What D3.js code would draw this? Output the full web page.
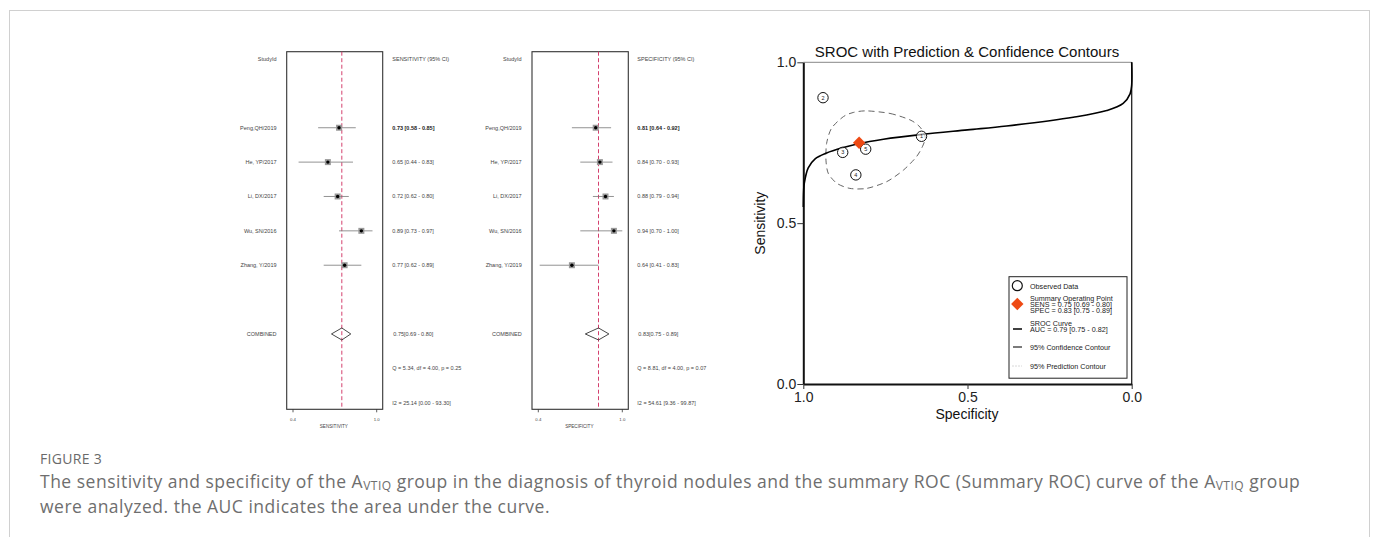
<!DOCTYPE html>
<html><head><meta charset="utf-8">
<script src="https://cdn.jsdelivr.net/npm/d3@7"></script>
<style>
html,body{margin:0;padding:0;background:#fff;}
svg{display:block;}
</style></head>
<body>
<script>
// ---------- DATA ----------
const studies = ["Peng,QH/2019", "He,  YP/2017", "Li,  DX/2017", "Wu,  SN/2016", "Zhang,  Y/2019"];
const sens = [0.73, 0.65, 0.72, 0.89, 0.77];
const sensLo = [0.58, 0.44, 0.62, 0.73, 0.62];
const sensHi = [0.85, 0.83, 0.80, 0.97, 0.89];
const sensComb = [0.75, 0.69, 0.80];
const spec = [0.81, 0.84, 0.88, 0.94, 0.64];
const specLo = [0.64, 0.70, 0.79, 0.70, 0.41];
const specHi = [0.92, 0.93, 0.94, 1.00, 0.83];
const specComb = [0.83, 0.75, 0.89];
const sensHet = ["Q = 5.34, df = 4.00, p = 0.25", "I2 = 25.14 [0.00 - 93.30]"];
const specHet = ["Q = 8.81, df = 4.00, p = 0.07", "I2 = 54.61 [9.36 - 99.87]"];
const forestTicks = [0.4, 1.0];
const studyPointLabels = ["5", "4", "3", "2", "1"];
// SROC curve: [specificity, sensitivity]
const srocCurve = [[1.0,0.55],[0.999,0.60],[0.997,0.624],[0.985,0.672],[0.964,0.700],[0.929,0.718],[0.878,0.735],[0.833,0.747],[0.756,0.761],[0.638,0.776],[0.50,0.790],[0.381,0.802],[0.178,0.829],[0.076,0.850],[0.026,0.872],[0.005,0.902],[0.0,0.93],[0.0,1.0]];
// 95% confidence contour: [specificity, sensitivity]
const confContour = [[0.807,0.849],[0.736,0.841],[0.675,0.821],[0.645,0.799],[0.629,0.769],[0.635,0.743],[0.655,0.707],[0.695,0.665],[0.746,0.629],[0.807,0.608],[0.858,0.608],[0.898,0.624],[0.924,0.655],[0.931,0.696],[0.929,0.748],[0.914,0.795],[0.878,0.831],[0.848,0.844]];
const summaryPoint = [0.83, 0.75];
const srocTicks = [0, 0.5, 1.0];
const legendItems = [["Observed Data"], ["Summary Operating Point","SENS = 0.75 [0.69 - 0.80]","SPEC = 0.83 [0.75 - 0.89]"], ["SROC Curve","AUC = 0.79 [0.75 - 0.82]"], ["95% Confidence Contour"], ["95% Prediction Contour"]];

// ---------- SVG ----------
const W = 1376, H = 537;
const svg = d3.select("body").append("svg").attr("width", W).attr("height", H);
svg.append("rect").attr("x",9.5).attr("y",10.5).attr("width",1360).attr("height",620)
  .attr("fill","none").attr("stroke","#d0d0d0").attr("stroke-width",1);

const FF = "Liberation Sans, Arial, sans-serif";

function forest(cfg) {
  const g = svg.append("g");
  const x = d3.scaleLinear().domain([0.4, 1.0]).range([cfg.x0, cfg.x1]);
  const row = d3.scaleLinear().domain([0, 10]).range([59, 402.7]);
  const bx0 = cfg.x0 - 6.3, bx1 = cfg.x1 + 6, by0 = 51.7, by1 = 409.3;
  const txt = (xx, yy, s, anchor, opts={}) => g.append("text").attr("x",xx).attr("y",yy)
     .attr("dy","0.35em").attr("text-anchor",anchor||"start").attr("font-family",FF)
     .attr("font-size",opts.size||5.5).attr("fill",opts.fill||"#444")
     .attr("font-weight",opts.bold?"bold":"normal").text(s);
  // box
  g.append("rect").attr("x",bx0).attr("y",by0).attr("width",bx1-bx0).attr("height",by1-by0)
    .attr("fill","none").attr("stroke","#333").attr("stroke-width",1.1);
  // header
  txt(cfg.labelX, row(0), "StudyId", "end");
  txt(cfg.valX, row(0), cfg.header, "start");
  // dashed line
  g.append("line").attr("x1",x(cfg.comb[0])).attr("x2",x(cfg.comb[0])).attr("y1",by0).attr("y2",by1)
    .attr("stroke","#d4406e").attr("stroke-width",1).attr("stroke-dasharray","4,2.5");
  // studies
  studies.forEach((s, i) => {
    const yy = row(i + 2);
    g.append("line").attr("x1",x(cfg.lo[i])).attr("x2",x(cfg.hi[i])).attr("y1",yy).attr("y2",yy)
      .attr("stroke","#777").attr("stroke-width",0.8);
    g.append("rect").attr("x",x(cfg.est[i])-3).attr("y",yy-3).attr("width",6).attr("height",6)
      .attr("fill","#999");
    g.append("circle").attr("cx",x(cfg.est[i])).attr("cy",yy).attr("r",1.7).attr("fill","#000");
    txt(cfg.labelX, yy, s, "end");
    txt(cfg.valX, yy, `${cfg.est[i].toFixed(2)} [${cfg.lo[i].toFixed(2)} - ${cfg.hi[i].toFixed(2)}]`, "start", {bold: i===0, fill: i===0?"#222":"#444"});
  });
  // combined
  const yc = row(8);
  const c = cfg.comb;
  g.append("path").attr("d", `M${x(c[1])-2},${yc} L${x(c[0])},${yc-6} L${x(c[2])+2},${yc} L${x(c[0])},${yc+6} Z`)
    .attr("fill","none").attr("stroke","#333").attr("stroke-width",0.9);
  txt(cfg.labelX, yc, "COMBINED", "end");
  txt(cfg.valX + 1, yc, `${c[0].toFixed(2)}[${c[1].toFixed(2)} - ${c[2].toFixed(2)}]`, "start");
  txt(cfg.valX, row(9), cfg.het[0], "start");
  txt(cfg.valX, row(10), cfg.het[1], "start");
  // ticks
  forestTicks.forEach(t => {
    g.append("line").attr("x1",x(t)).attr("x2",x(t)).attr("y1",by1).attr("y2",by1+3).attr("stroke","#333").attr("stroke-width",0.8);
    txt(x(t), 419.5, t.toFixed(1), "middle", {size:4.3});
  });
  txt((cfg.x0+cfg.x1)/2 - 1, 426, cfg.axisTitle, "middle", {size:4.6});
}

forest({x0:293, x1:376.7, labelX:276.5, valX:392.3, header:"SENSITIVITY (95% CI)", est:sens, lo:sensLo, hi:sensHi, comb:sensComb, het:sensHet, axisTitle:"SENSITIVITY"});
forest({x0:538.3, x1:622.3, labelX:521.7, valX:637.3, header:"SPECIFICITY (95% CI)", est:spec, lo:specLo, hi:specHi, comb:specComb, het:specHet, axisTitle:"SPECIFICITY"});

// ---------- SROC ----------
const sx = d3.scaleLinear().domain([1, 0]).range([803.3, 1131.7]);
const sy = d3.scaleLinear().domain([0, 1]).range([384, 62.3]);
const sg = svg.append("g");

// frame top/right
sg.append("line").attr("x1",sx(1)).attr("x2",sx(0)).attr("y1",sy(1)).attr("y2",sy(1)).attr("stroke","#888").attr("stroke-width",1);
sg.append("line").attr("x1",sx(0)).attr("x2",sx(0)).attr("y1",sy(1)).attr("y2",sy(0)).attr("stroke","#222").attr("stroke-width",1.3);

// axes
const yAxis = sg.append("g").attr("transform",`translate(${sx(1)},0)`)
  .call(d3.axisLeft(sy).tickValues(srocTicks).tickFormat(d3.format(".1f")).tickSize(6).tickSizeOuter(0));
const xAxis = sg.append("g").attr("transform",`translate(0,${sy(0)})`)
  .call(d3.axisBottom(sx).tickValues(srocTicks).tickFormat(d3.format(".1f")).tickSize(5).tickSizeOuter(0));
[yAxis, xAxis].forEach(a => {
  a.select(".domain").attr("stroke","#111").attr("stroke-width",2);
  a.selectAll(".tick line").attr("stroke","#333").attr("stroke-width",1);
  a.selectAll(".tick text").attr("font-family",FF).attr("font-size",14).attr("fill","#222");
});
yAxis.selectAll(".tick text").attr("x",-7);
xAxis.selectAll(".tick text").attr("y",8);

sg.append("text").attr("x",967).attr("y",57).attr("text-anchor","middle").attr("font-family",FF)
  .attr("font-size",15).attr("fill","#111").text("SROC with Prediction & Confidence Contours");
sg.append("text").attr("transform",`translate(765,${(sy(0)+sy(1))/2}) rotate(-90)`).attr("text-anchor","middle")
  .attr("font-family",FF).attr("font-size",14).attr("fill","#111").text("Sensitivity");
sg.append("text").attr("x",967).attr("y",419).attr("text-anchor","middle")
  .attr("font-family",FF).attr("font-size",14).attr("fill","#111").text("Specificity");

// confidence contour
sg.append("path").datum(confContour)
  .attr("d", d3.line().x(d=>sx(d[0])).y(d=>sy(d[1])).curve(d3.curveCardinalClosed.tension(0.2)))
  .attr("fill","none").attr("stroke","#666").attr("stroke-width",1).attr("stroke-dasharray","6,4");

// SROC curve
sg.append("path").datum(srocCurve)
  .attr("d", d3.line().x(d=>sx(d[0])).y(d=>sy(d[1])).curve(d3.curveCatmullRom.alpha(0.5)))
  .attr("fill","none").attr("stroke","#000").attr("stroke-width",1.6);

// study points
sens.forEach((s, i) => {
  const cx = sx(spec[i]), cy = sy(s);
  sg.append("circle").attr("cx",cx).attr("cy",cy).attr("r",5.2).attr("fill","#fff").attr("fill-opacity",0.6)
    .attr("stroke","#111").attr("stroke-width",1);
  sg.append("text").attr("x",cx).attr("y",cy).attr("dy","0.35em").attr("text-anchor","middle")
    .attr("font-family",FF).attr("font-size",5.5).attr("fill","#222").text(studyPointLabels[i]);
});

// summary diamond
const dsz = 6.2;
sg.append("path").attr("d", d3.symbol().type(d3.symbolSquare).size(dsz*dsz*2)())
  .attr("transform",`translate(${sx(summaryPoint[0])},${sy(summaryPoint[1])}) rotate(45)`)
  .attr("fill","#ee4a14");

// legend
const lg = sg.append("g");
lg.append("rect").attr("x",1009).attr("y",276.7).attr("width",118).attr("height",101.5)
  .attr("fill","#fff").attr("stroke","#222").attr("stroke-width",1);
const lx = 1030, fs = 7.2;
const ltext = (yy, s) => lg.append("text").attr("x",lx).attr("y",yy).attr("dy","0.35em")
  .attr("font-family",FF).attr("font-size",fs).attr("fill","#222").text(s);
// observed
lg.append("circle").attr("cx",1017.3).attr("cy",285.7).attr("r",5).attr("fill","none").attr("stroke","#111").attr("stroke-width",1.2);
ltext(286, legendItems[0][0]);
// summary
lg.append("path").attr("d", d3.symbol().type(d3.symbolSquare).size(dsz*dsz*2)())
  .attr("transform","translate(1017.3,304) rotate(45)").attr("fill","#ee4a14");
legendItems[1].forEach((s,k) => ltext(298 + k*6.4, s));
// sroc
lg.append("line").attr("x1",1013).attr("x2",1022).attr("y1",329).attr("y2",329).attr("stroke","#111").attr("stroke-width",1.6);
legendItems[2].forEach((s,k) => ltext(323.5 + k*6.4, s));
// confidence
lg.append("line").attr("x1",1013).attr("x2",1022).attr("y1",347).attr("y2",347).attr("stroke","#333").attr("stroke-width",1.3);
ltext(347, legendItems[3][0]);
// prediction
lg.append("line").attr("x1",1012.5).attr("x2",1022).attr("y1",366).attr("y2",366).attr("stroke","#aaa").attr("stroke-width",0.9).attr("stroke-dasharray","1,2");
ltext(366, legendItems[4][0]);

// ---------- CAPTION ----------
const CF = "Open Sans, Noto Sans, sans-serif";
svg.append("text").attr("x",40).attr("y",464).attr("font-family",CF).attr("font-size",14)
  .attr("letter-spacing",0.3).attr("fill","#6a6a6a").text("FIGURE 3");
function captionLine(yy, parts) {
  const t = svg.append("text").attr("x",40).attr("y",yy).attr("font-family",CF).attr("font-size",17.5)
    .attr("letter-spacing",0.5).attr("fill","#6e6e6e");
  parts.forEach(p => {
    if (p.sub) t.append("tspan").attr("font-size",12).attr("baseline-shift","-2px").text(p.sub);
    else t.append("tspan").text(p.t);
  });
  return t;
}
captionLine(488, [{t:"The sensitivity and specificity of the A"},{sub:"VTIQ"},{t:" group in the diagnosis of thyroid nodules and the summary ROC (Summary ROC) curve of the A"},{sub:"VTIQ"},{t:" group"}]);
captionLine(512.5, [{t:"were analyzed. the AUC indicates the area under the curve."}]);
</script>
</body></html>
